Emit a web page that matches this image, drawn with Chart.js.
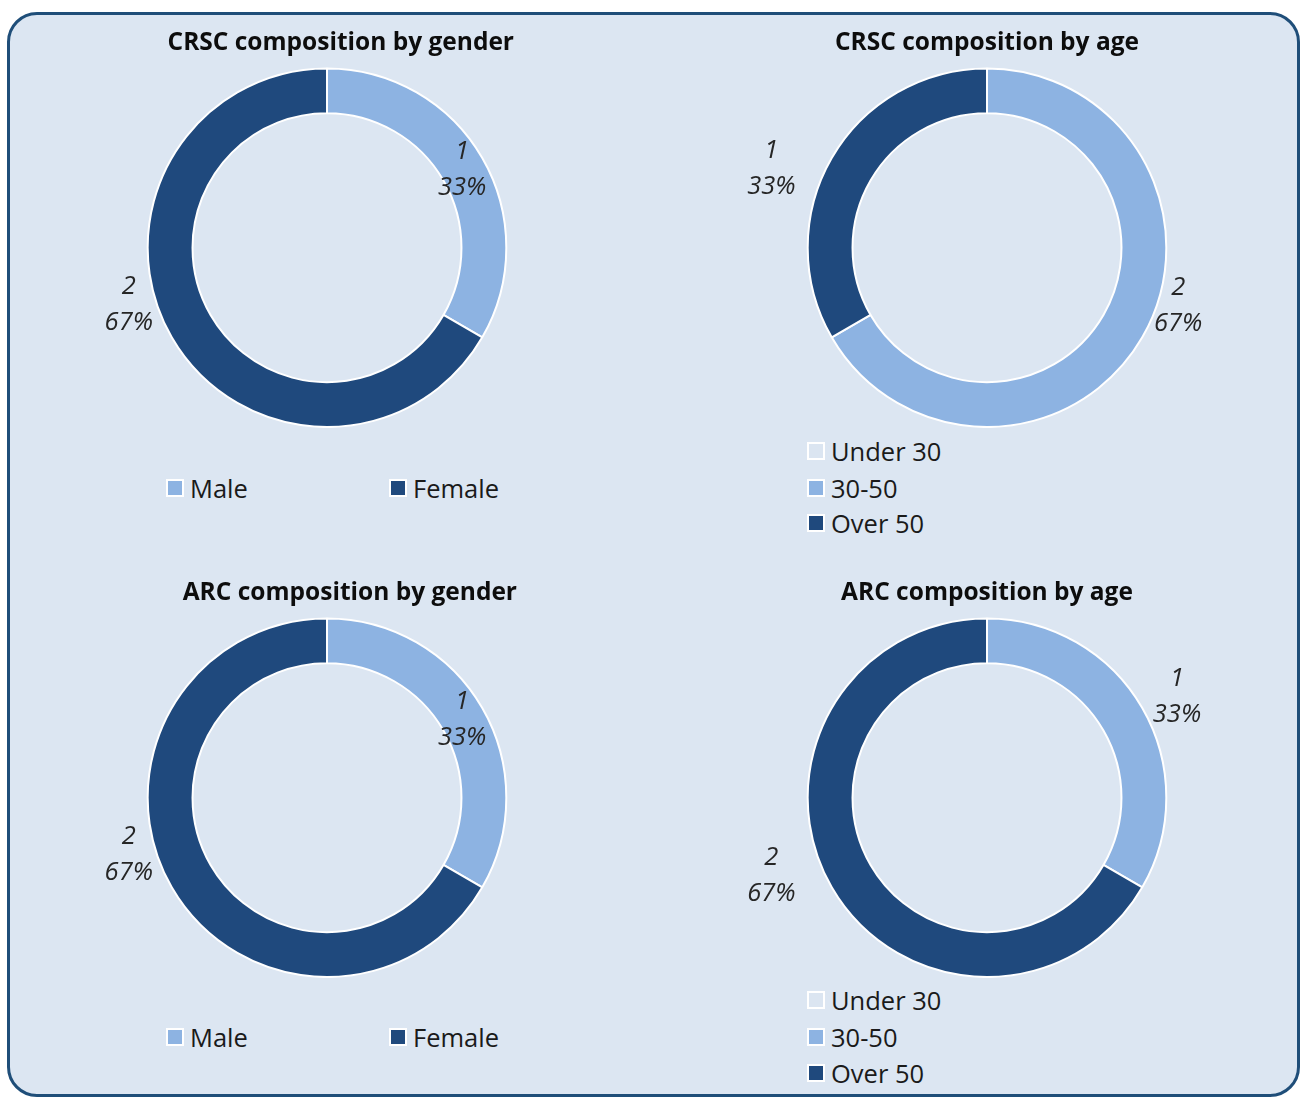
<!DOCTYPE html>
<html>
<head>
<meta charset="utf-8">
<script src="https://cdn.jsdelivr.net/npm/chart.js@4/dist/chart.umd.min.js"></script>
<style>
    body { margin: 0; background: #ffffff; font-family: 'Open Sans', sans-serif; }
    #panel {
        position: absolute; left: 7px; top: 12px; width: 1293px; height: 1085px;
        box-sizing: border-box; background: #dce6f2;
        border: 3px solid #1f4e79; border-radius: 30px;
    }
    .chartBox { position: absolute; width: 560px; height: 408px; }
    .legend { position: absolute; font-size: 25.5px; line-height: 34px; color: #1a1a1a; }
    .legend .item { position: absolute; white-space: nowrap; display: flex; align-items: center; }
    .legend .swatch {
        width: 14px; height: 14px; border: 2px solid #ffffff; margin-right: 6px;
    }
</style>
</head>
<body>
<div id="panel"></div>
<div class="chartBox" style="left:47px; top:20px;"><canvas id="crscGender"></canvas></div>
<div class="chartBox" style="left:707px; top:20px;"><canvas id="crscAge"></canvas></div>
<div class="chartBox" style="left:47px; top:570px;"><canvas id="arcGender"></canvas></div>
<div class="chartBox" style="left:707px; top:570px;"><canvas id="arcAge"></canvas></div>
<div id="legCrscGender" class="legend"></div>
<div id="legCrscAge" class="legend"></div>
<div id="legArcGender" class="legend"></div>
<div id="legArcAge" class="legend"></div>
<script>
// Categories and values
const genderLabels = ['Male', 'Female'];
const ageLabels = ['Under 30', '30-50', 'Over 50'];

const crscGender = [1, 2];
const crscAge = [0, 2, 1];
const arcGender = [1, 2];
const arcAge = [0, 1, 2];

const genderColors = ['#8db3e2', '#1f497d'];
const ageColors = ['#dbe5f1', '#8db3e2', '#1f497d'];

// Draw "value / percent" labels around each slice
const sliceLabels = {
    id: 'sliceLabels',
    afterDatasetsDraw(chart, args, opts) {
        const ctx = chart.ctx;
        const meta = chart.getDatasetMeta(0);
        const values = chart.data.datasets[0].data;
        const total = values.reduce((s, v) => s + v, 0);
        ctx.save();
        ctx.font = 'italic 25.5px "Open Sans"';
        ctx.fillStyle = '#262626';
        ctx.textAlign = 'center';
        ctx.textBaseline = 'middle';
        meta.data.forEach((arc, i) => {
            if (!values[i]) return;
            const place = opts.place[i] || [1.15, 0];
            const mid = (arc.startAngle + arc.endAngle) / 2 + place[1] * Math.PI / 180;
            const r = arc.outerRadius * place[0];
            const x = arc.x + Math.cos(mid) * r;
            const y = arc.y + Math.sin(mid) * r;
            const pct = Math.round(values[i] / total * 100) + '%';
            ctx.fillText(String(values[i]), x, y - 18);
            ctx.fillText(pct, x, y + 18);
        });
        ctx.restore();
    }
};

function makeDoughnut(id, title, labels, values, colors, place, titleAlign, sidePad) {
    return new Chart(document.getElementById(id), {
        type: 'doughnut',
        data: {
            labels: labels,
            datasets: [{
                data: values,
                backgroundColor: colors,
                borderColor: '#ffffff',
                borderWidth: 2,
            }],
        },
        options: {
            responsive: true,
            maintainAspectRatio: false,
            animation: false,
            cutout: '75%',
            layout: { padding: { left: sidePad, right: sidePad } },
            plugins: {
                legend: { display: false },
                tooltip: { enabled: false },
                title: {
                    display: true,
                    text: title,
                    align: titleAlign,
                    color: '#0d0d0d',
                    font: { family: 'Open Sans', size: 24.5, weight: 'bold' },
                    padding: { top: 8, bottom: 10 },
                },
                sliceLabels: { place: place },
            },
        },
        plugins: [sliceLabels],
    });
}

// Legend built from the same arrays
function makeLegend(id, labels, colors, items) {
    const el = document.getElementById(id);
    labels.forEach((label, i) => {
        const item = document.createElement('div');
        item.className = 'item';
        item.style.left = items[i][0] + 'px';
        item.style.top = items[i][1] + 'px';
        item.innerHTML = `<span class="swatch" style="background:${colors[i]}"></span>${label}`;
        el.appendChild(item);
    });
}

makeDoughnut('crscGender', 'CRSC composition by gender', genderLabels, crscGender, genderColors,
    [[0.87, 0], [1.15, 14]], 'end', 93);
makeDoughnut('crscAge', 'CRSC composition by age', ageLabels, crscAge, ageColors,
    [[1.15, 0], [1.115, -13], [1.28, -10]], 'center', 0);
makeDoughnut('arcGender', 'ARC composition by gender', genderLabels, arcGender, genderColors,
    [[0.87, 0], [1.15, 14]], 'end', 90);
makeDoughnut('arcAge', 'ARC composition by age', ageLabels, arcAge, ageColors,
    [[1.15, 0], [1.2, 2], [1.28, 10]], 'center', 0);

makeLegend('legCrscGender', genderLabels, genderColors, [[166, 471], [389, 471]]);
makeLegend('legCrscAge', ageLabels, ageColors, [[807, 434], [807, 471], [807, 506]]);
makeLegend('legArcGender', genderLabels, genderColors, [[166, 1020], [389, 1020]]);
makeLegend('legArcAge', ageLabels, ageColors, [[807, 983], [807, 1020], [807, 1056]]);
</script>
</body>
</html>
